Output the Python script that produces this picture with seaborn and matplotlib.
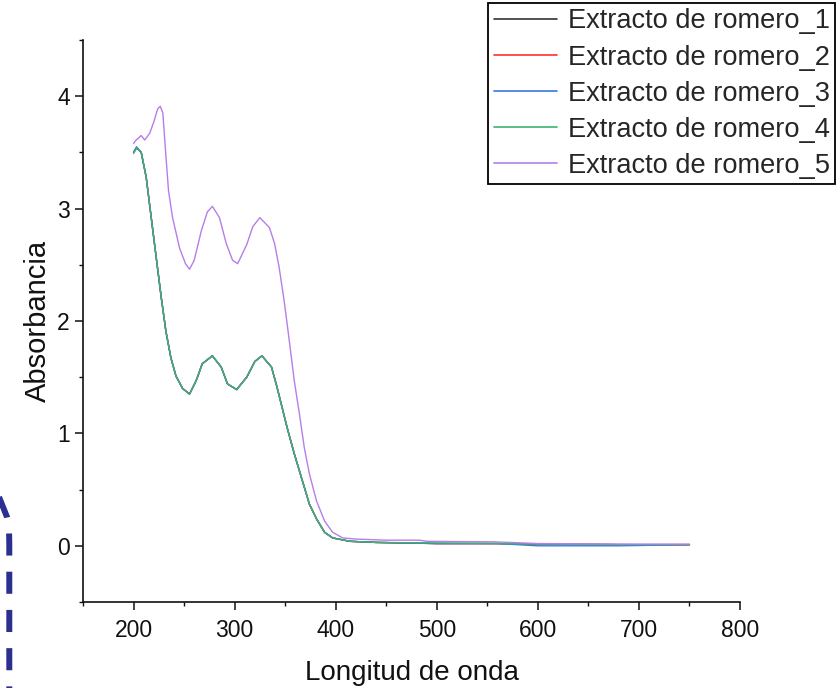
import numpy as np
import pandas as pd
import seaborn as sns
import matplotlib
matplotlib.use("Agg")
import matplotlib.pyplot as plt
from matplotlib.lines import Line2D

# ---- data ----
series_names = ["Extracto de romero_1", "Extracto de romero_2", "Extracto de romero_3",
                "Extracto de romero_4", "Extracto de romero_5"]
series_colors = ["#333333", "#ff3030", "#3a78e0", "#3cb371", "#b57ee8"]

wl_a = [200, 203, 207.6, 212.5, 217.5, 222.5, 227.4, 232, 237, 242,
        248.5, 255.4, 262, 268, 278, 286.7, 293, 302, 312, 320,
        327, 336.5, 342, 347, 352, 359, 366, 374, 381, 389,
        397, 414, 440, 500, 560, 600, 680, 750]
abs1 = [3.50, 3.54, 3.50, 3.28, 2.92, 2.56, 2.21, 1.91, 1.67, 1.51,
        1.40, 1.35, 1.47, 1.62, 1.69, 1.59, 1.44, 1.39, 1.50, 1.64,
        1.69, 1.59, 1.41, 1.23, 1.05, 0.82, 0.61, 0.37, 0.24, 0.12,
        0.07, 0.04, 0.03, 0.02, 0.02, 0.015, 0.01, 0.01]
abs2 = [3.50, 3.54, 3.50, 3.28, 2.92, 2.56, 2.21, 1.91, 1.67, 1.51,
        1.40, 1.35, 1.47, 1.62, 1.69, 1.59, 1.44, 1.39, 1.50, 1.64,
        1.69, 1.59, 1.41, 1.23, 1.05, 0.82, 0.61, 0.37, 0.24, 0.12,
        0.07, 0.04, 0.03, 0.02, 0.02, 0.015, 0.01, 0.01]
abs3 = [3.50, 3.55, 3.50, 3.28, 2.92, 2.56, 2.21, 1.91, 1.67, 1.51,
        1.40, 1.35, 1.47, 1.62, 1.69, 1.59, 1.44, 1.39, 1.50, 1.64,
        1.69, 1.59, 1.41, 1.23, 1.05, 0.82, 0.61, 0.37, 0.24, 0.12,
        0.07, 0.04, 0.03, 0.02, 0.02, 0.0, 0.0, 0.01]
abs4 = [3.49, 3.54, 3.50, 3.28, 2.92, 2.56, 2.21, 1.91, 1.67, 1.51,
        1.40, 1.35, 1.47, 1.62, 1.69, 1.59, 1.44, 1.39, 1.50, 1.64,
        1.69, 1.59, 1.41, 1.23, 1.05, 0.82, 0.61, 0.37, 0.24, 0.12,
        0.07, 0.04, 0.03, 0.025, 0.02, 0.015, 0.01, 0.01]

wl_5 = [200, 202.6, 207.6, 211, 216, 220, 224, 226.4, 229, 231.6,
        234.6, 238.6, 245.5, 251.4, 255.4, 260, 267, 273, 278, 285,
        291.7, 298, 303, 312, 318, 325, 334.5, 339.5, 344, 349,
        354, 359, 364, 369, 374, 381, 389, 397, 407, 420,
        450, 483, 490, 557, 600, 700, 750]
abs5 = [3.58, 3.61, 3.65, 3.61, 3.67, 3.77, 3.89, 3.91, 3.85, 3.52,
        3.16, 2.92, 2.65, 2.51, 2.46, 2.54, 2.80, 2.97, 3.02, 2.92,
        2.69, 2.54, 2.51, 2.68, 2.84, 2.92, 2.83, 2.69, 2.48, 2.18,
        1.83, 1.47, 1.18, 0.87, 0.64, 0.40, 0.22, 0.12, 0.07, 0.06,
        0.05, 0.05, 0.04, 0.035, 0.02, 0.015, 0.015]

x_ticks = [200, 300, 400, 500, 600, 700, 800]
y_ticks = [0, 1, 2, 3, 4]

frames = []
for name, wl, ab in zip(series_names, [wl_a, wl_a, wl_a, wl_a, wl_5],
                        [abs1, abs2, abs3, abs4, abs5]):
    frames.append(pd.DataFrame({"wl": wl, "abs": ab, "serie": name}))
df = pd.concat(frames, ignore_index=True)

# ---- style ----
sns.set_style("ticks")
plt.rcParams["font.family"] = ["Liberation Sans", "DejaVu Sans"]

fig = plt.figure(figsize=(8.4, 6.88), dpi=100)
ax = fig.add_axes([83/840, 1 - 602/688, (740-83)/840, (602-40)/688])

sns.lineplot(data=df, x="wl", y="abs", hue="serie", palette=series_colors,
             hue_order=series_names, sort=False, estimator=None, linewidth=1.0, ax=ax)

ax.set_xlim(150, 800)
ax.set_ylim(-0.5, 4.5)
ax.set_xticks(x_ticks)
ax.set_yticks(y_ticks)
ax.set_xticks(np.arange(150, 801, 50), minor=True)
ax.set_yticks(np.arange(-0.5, 4.51, 0.5), minor=True)
ax.tick_params(which="major", length=5.5, width=1.1, labelsize=16.5, colors="#111111", pad=4)
ax.tick_params(axis="x", which="major", pad=7)
ax.tick_params(which="minor", length=3, width=1.0, colors="#111111")
for s in ["left", "bottom"]:
    ax.spines[s].set_linewidth(1.2)
    ax.spines[s].set_color("#111111")
sns.despine(ax=ax)

ax.set_xlabel("Longitud de onda", fontsize=20, labelpad=13, color="#111111")
ax.set_ylabel("Absorbancia", fontsize=21, labelpad=4, color="#111111")

handles, labels = ax.get_legend_handles_labels()
ax.get_legend().remove()
leg = fig.legend(handles, labels, loc="upper right", bbox_to_anchor=(835/840, 1 - 3/688),
                 fontsize=19.6, frameon=True, fancybox=False, shadow=False,
                 handlelength=2.35, handletextpad=0.37, labelspacing=0.37,
                 borderpad=0.2, borderaxespad=0)
leg.get_frame().set_edgecolor("black")
leg.get_frame().set_linewidth(1.3)
leg.get_frame().set_alpha(1)
for h in leg.get_lines():
    h.set_linewidth(1.2)

# decorative dashed arc from slide
px = [-1, 3, 7, 9, 9.3, 9.3]
py = [497, 507, 517, 527, 545, 700]
deco = Line2D([x/840 for x in px], [1 - y/688 for y in py], transform=fig.transFigure,
              color="#2b2f8f", linewidth=4.3, solid_capstyle="butt", dash_capstyle="butt")
deco.set_dashes((3.7, 2.7))
fig.add_artist(deco)

fig.savefig("out.png", dpi=100)
